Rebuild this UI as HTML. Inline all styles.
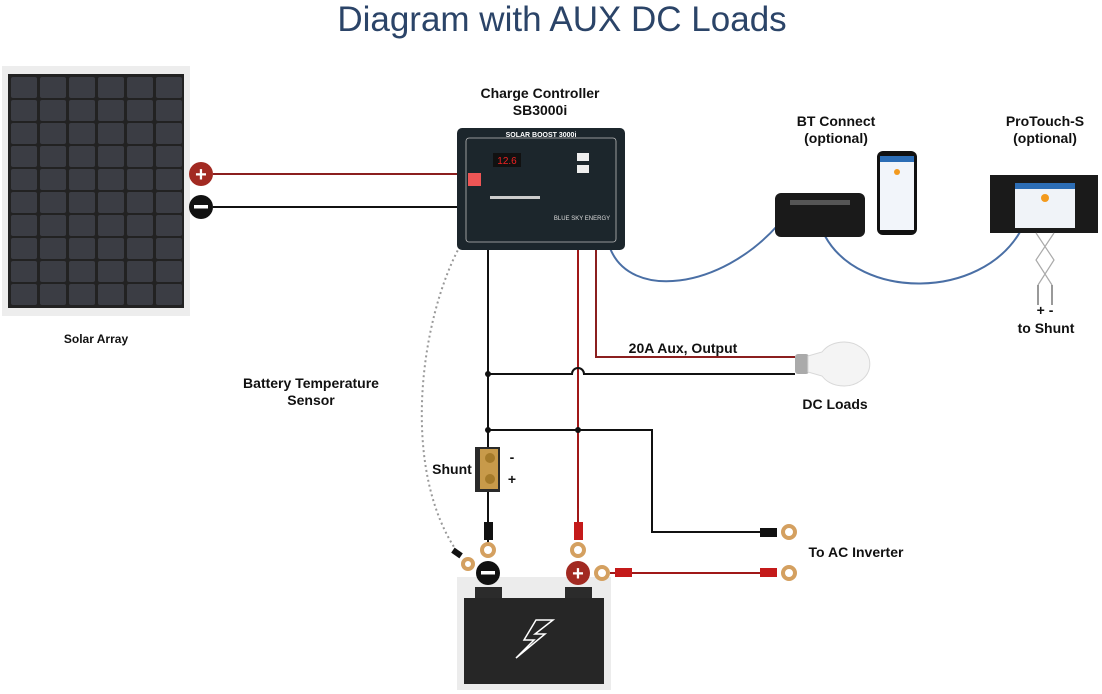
<!DOCTYPE html>
<html><head><meta charset="utf-8"><style>
html,body{margin:0;padding:0;background:#fff}
svg{display:block}
text{font-family:"Liberation Sans",sans-serif}
.b{font-weight:bold;font-size:14px;fill:#111}
</style></head><body>
<svg width="1102" height="694" viewBox="0 0 1102 694" xmlns="http://www.w3.org/2000/svg">
<text x="562" y="31" text-anchor="middle" font-size="35" fill="#2b4468">Diagram with AUX DC Loads</text>

<!-- solar panel -->
<rect x="2" y="66" width="188" height="250" fill="#ededed"/>
<rect x="8" y="74" width="176" height="234" fill="#222"/>
<g id="cells"></g>
<text x="96" y="343" text-anchor="middle" font-size="12" font-weight="bold" fill="#111">Solar Array</text>

<!-- panel terminals -->
<line x1="213" y1="174" x2="458" y2="174" stroke="#8b1f1f" stroke-width="2"/>
<line x1="213" y1="207" x2="458" y2="207" stroke="#111" stroke-width="2"/>
<circle cx="201" cy="174" r="12" fill="#a22a22"/>
<text x="201" y="181" text-anchor="middle" font-size="20" font-weight="bold" fill="#fff">+</text>
<circle cx="201" cy="207" r="12" fill="#111"/>
<rect x="194" y="205" width="14" height="3.5" fill="#fff"/>

<!-- wires -->
<g fill="none" stroke-width="2">
<path d="M488 250 V545" stroke="#111"/>
<path d="M578 250 V525" stroke="#a01818"/>
<path d="M596 250 V357 H795" stroke="#8b1f1f"/>
<path d="M488 374 H572 A6 6 0 0 1 584 374 H795" stroke="#111"/>
<path d="M488 430 H652 V532 H762" stroke="#111"/>
<path d="M610 573 H762" stroke="#a01818"/>
<path d="M610 248 C630 300 720 290 778 225" stroke="#4a6fa5"/>
<path d="M825 236 C860 300 980 300 1020 232" stroke="#4a6fa5"/>
<path d="M460 246 C420 320 400 470 458 553" stroke="#999" stroke-dasharray="2 3"/>
</g>
<circle cx="488" cy="374" r="3" fill="#111"/>
<circle cx="488" cy="430" r="3" fill="#111"/>
<circle cx="578" cy="430" r="3" fill="#111"/>

<!-- controller -->
<rect x="457" y="128" width="168" height="122" rx="5" fill="#1c262c"/>
<rect x="466" y="138" width="150" height="104" rx="3" fill="none" stroke="#bbb" stroke-width="0.8"/>
<text x="541" y="137" text-anchor="middle" font-size="7" font-weight="bold" fill="#fff">SOLAR BOOST 3000i</text>
<rect x="493" y="153" width="28" height="14" fill="#111"/>
<text x="507" y="164" text-anchor="middle" font-size="10" fill="#e22">12.6</text>
<rect x="468" y="173" width="13" height="13" fill="#e55"/>
<rect x="577" y="153" width="12" height="8" fill="#eee"/>
<rect x="577" y="165" width="12" height="8" fill="#eee"/>
<rect x="490" y="196" width="50" height="3" fill="#ccc"/>
<text x="582" y="220" text-anchor="middle" font-size="6" fill="#ddd">BLUE SKY ENERGY</text>
<text x="540" y="98" text-anchor="middle" class="b">Charge Controller</text>
<text x="540" y="115" text-anchor="middle" class="b">SB3000i</text>

<text x="683" y="353" text-anchor="middle" class="b">20A Aux, Output</text>
<text x="311" y="388" text-anchor="middle" class="b">Battery Temperature</text>
<text x="311" y="405" text-anchor="middle" class="b">Sensor</text>

<!-- bulb -->
<rect x="795" y="354" width="14" height="20" rx="3" fill="#aaa"/>
<path d="M808 356 L822 352 A26 22 0 1 1 822 376 L808 372 Z" fill="#f4f4f4" stroke="#d8d8d8" stroke-width="1"/>
<text x="835" y="409" text-anchor="middle" class="b">DC Loads</text>

<!-- BT connect -->
<text x="836" y="126" text-anchor="middle" class="b">BT Connect</text>
<text x="836" y="143" text-anchor="middle" class="b">(optional)</text>
<rect x="775" y="193" width="90" height="44" rx="6" fill="#1a1a1a"/>
<rect x="790" y="200" width="60" height="5" fill="#555"/>
<rect x="877" y="151" width="40" height="84" rx="6" fill="#111"/>
<rect x="880" y="156" width="34" height="74" fill="#f2f5fa"/>
<rect x="880" y="156" width="34" height="6" fill="#2c6db5"/>
<circle cx="897" cy="172" r="3" fill="#f39a1e"/>

<!-- ProTouch -->
<text x="1045" y="126" text-anchor="middle" class="b">ProTouch-S</text>
<text x="1045" y="143" text-anchor="middle" class="b">(optional)</text>
<rect x="990" y="175" width="108" height="58" fill="#1a1a1a"/>
<rect x="1015" y="183" width="60" height="45" fill="#f0f3f8"/>
<rect x="1015" y="183" width="60" height="6" fill="#2c6db5"/>
<circle cx="1045" cy="198" r="4" fill="#f39a1e"/>
<path d="M1036 233 L1054 260 L1038 285 M1054 233 L1036 260 L1052 285" fill="none" stroke="#aaa" stroke-width="1.2"/>
<path d="M1038 285 V305 M1052 285 V305" stroke="#333" stroke-width="1"/>
<text x="1045" y="315" text-anchor="middle" class="b" font-size="12">+ -</text>
<text x="1046" y="333" text-anchor="middle" class="b">to Shunt</text>

<!-- shunt -->
<rect x="475" y="447" width="25" height="45" fill="#2a2a2a"/>
<rect x="480" y="449" width="18" height="40" fill="#c89a4a"/>
<circle cx="490" cy="458" r="5" fill="#a57a2a"/>
<circle cx="490" cy="479" r="5" fill="#a57a2a"/>
<text x="512" y="462" text-anchor="middle" class="b" font-size="12">-</text>
<text x="512" y="484" text-anchor="middle" class="b" font-size="12">+</text>
<text x="452" y="474" text-anchor="middle" class="b">Shunt</text>

<!-- battery -->
<rect x="457" y="577" width="154" height="113" fill="#ececec"/>
<rect x="475" y="587" width="27" height="14" fill="#2b2b2b"/>
<rect x="565" y="587" width="27" height="14" fill="#2b2b2b"/>
<rect x="464" y="598" width="140" height="86" fill="#262626"/>
<path d="M553 620 L536 620 L524 640 L534 640 L516 658 L545 634 L535 634 Z" fill="none" stroke="#fff" stroke-width="1.5"/>
<circle cx="488" cy="573" r="12" fill="#111"/>
<rect x="481" y="571" width="14" height="3.5" fill="#fff"/>
<circle cx="578" cy="573" r="12" fill="#a22a22"/>
<text x="578" y="580" text-anchor="middle" font-size="20" font-weight="bold" fill="#fff">+</text>

<!-- lugs -->
<g fill="none" stroke="#d4a060" stroke-width="4">
<circle cx="488" cy="550" r="6"/><circle cx="578" cy="550" r="6"/>
<circle cx="602" cy="573" r="6"/><circle cx="789" cy="573" r="6"/>
<circle cx="789" cy="532" r="6"/><circle cx="468" cy="564" r="5"/>
</g>
<rect x="484" y="522" width="9" height="18" fill="#111"/>
<rect x="574" y="522" width="9" height="18" fill="#c41a1a"/>
<rect x="615" y="568" width="17" height="9" fill="#c41a1a"/>
<rect x="760" y="568" width="17" height="9" fill="#c41a1a"/>
<rect x="760" y="528" width="17" height="9" fill="#111"/>
<rect x="452" y="550" width="10" height="6" fill="#111" transform="rotate(35 457 553)"/>
<text x="856" y="557" text-anchor="middle" class="b">To AC Inverter</text>
</svg>
<script>
var g=document.getElementById('cells'),s='';
for(var r=0;r<10;r++)for(var c=0;c<6;c++){s+='<rect x="'+(11+c*29)+'" y="'+(77+r*23)+'" width="26" height="21" rx="2" fill="#3b3d44"/>';}
g.innerHTML=s;
</script>
</body></html>
